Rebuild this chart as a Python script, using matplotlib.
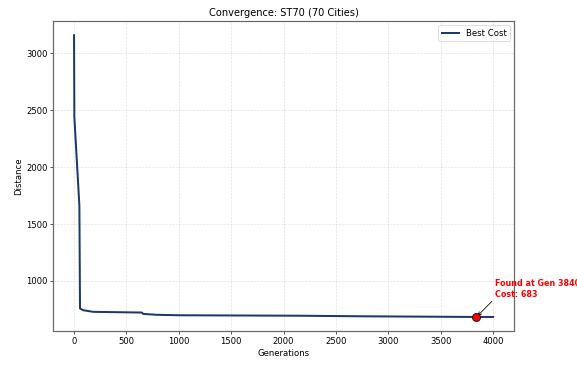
import matplotlib
matplotlib.use("Agg")
import matplotlib.pyplot as plt

# Data: generation breakpoints and best cost
generations = [0, 3, 51, 57, 89, 185, 646, 660, 790, 1012, 2140, 2750, 3840, 4000]
best_cost   = [3160, 2440, 1660, 758, 742, 728, 722, 710, 702, 698, 694, 689, 683, 683]
best_gen = 3840
best_val = 683

title = "Convergence: ST70 (70 Cities)"
xlabel = "Generations"
ylabel = "Distance"
legend_label = "Best Cost"

fig = plt.figure(figsize=(10, 6.326), dpi=57.7)
ax = fig.add_axes([0.092, 0.093, 0.799, 0.849])

ax.plot(generations, best_cost, color="#1a3a6b", linewidth=2.5, label=legend_label)
ax.plot(best_gen, best_val, "o", color="red", markeredgecolor="black",
        markersize=10, zorder=5)
ax.annotate(f"Found at Gen {best_gen}\nCost: {best_val}",
            xy=(best_gen, best_val), xytext=(best_gen + 175, best_val + 180),
            color="red", fontweight="bold", fontsize=10,
            arrowprops=dict(arrowstyle="->", color="black", relpos=(0, 0)),
            annotation_clip=False)

ax.set_title(title, fontsize=12.4)
ax.set_xlabel(xlabel, fontsize=10.7)
ax.set_ylabel(ylabel, fontsize=10.7)
ax.tick_params(labelsize=10.7)
ax.grid(True, linestyle="--", alpha=0.4)
ax.legend(loc="upper right", fontsize=10.7)
for s in ax.spines.values():
    s.set_color("#666666")
    s.set_linewidth(1.5)

fig.savefig("out.png", dpi=57.7)
